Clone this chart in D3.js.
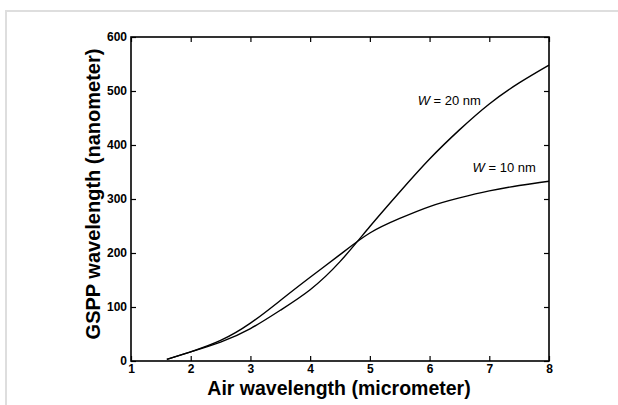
<!DOCTYPE html>
<html>
<head>
<meta charset="utf-8">
<script src="https://cdn.jsdelivr.net/npm/d3@7"></script>
<style>
  body { margin: 0; background: #fff; }
  svg { display: block; font-family: "Liberation Sans", Arial, sans-serif; }
</style>
</head>
<body>
<svg id="chart" width="618" height="405"></svg>
<script>
// data
const airWavelength = [1.6, 2, 2.5, 3, 3.5, 4, 4.5, 5, 5.5, 6, 6.5, 7, 7.5, 8];
const gsppW10 = [3, 17, 38, 70, 112, 155, 197, 237, 264, 286, 302, 315, 325, 333];
const gsppW20 = [3, 17, 35, 60, 94, 132, 184, 249, 313, 374, 428, 476, 515, 548];
const xTicks = [1, 2, 3, 4, 5, 6, 7, 8];
const yTicks = [0, 100, 200, 300, 400, 500, 600];

const width = 618, height = 405;
const MARGIN = { LEFT: 131, RIGHT: 69, TOP: 37, BOTTOM: 44 };

let svg = d3.select("#chart");

// grey page frame
svg.append("path")
    .attr("d", "M6," + height + "V11H" + width)
    .attr("fill", "none")
    .attr("stroke", "#dedede")
    .attr("stroke-width", 2);

//** SCALES *****************************************
let xScale = d3.scaleLinear()
    .domain([1, 8])
    .range([MARGIN.LEFT, width - MARGIN.RIGHT]);

let yScale = d3.scaleLinear()
    .domain([0, 600])
    .range([height - MARGIN.BOTTOM, MARGIN.TOP]);

let chart = svg.append("g");

//** AXES (ticks pointing inward) *******************
function styleAxis(g) {
    g.select(".domain").remove();
    g.selectAll(".tick line").attr("stroke", "#000").attr("stroke-width", 1.2);
    g.selectAll(".tick text")
        .attr("font-size", "12px")
        .attr("font-weight", "bold")
        .attr("fill", "#000");
}

chart.append("g")
    .attr("transform", "translate(0," + yScale(0) + ")")
    .call(d3.axisBottom(xScale).tickValues(xTicks).tickFormat(d3.format("d"))
        .tickSizeInner(-5).tickSizeOuter(0).tickPadding(3))
    .call(styleAxis);

chart.append("g")
    .attr("transform", "translate(0," + yScale(600) + ")")
    .call(d3.axisTop(xScale).tickValues(xTicks).tickFormat("")
        .tickSizeInner(-5).tickSizeOuter(0))
    .call(styleAxis);

chart.append("g")
    .attr("transform", "translate(" + xScale(1) + ",0)")
    .call(d3.axisLeft(yScale).tickValues(yTicks).tickFormat(d3.format("d"))
        .tickSizeInner(-5).tickSizeOuter(0).tickPadding(4))
    .call(styleAxis);

chart.append("g")
    .attr("transform", "translate(" + xScale(8) + ",0)")
    .call(d3.axisRight(yScale).tickValues(yTicks).tickFormat("")
        .tickSizeInner(-5).tickSizeOuter(0))
    .call(styleAxis);

// plot box
chart.append("rect")
    .attr("x", xScale(1))
    .attr("y", yScale(600))
    .attr("width", xScale(8) - xScale(1))
    .attr("height", yScale(0) - yScale(600))
    .attr("fill", "none")
    .attr("stroke", "#000")
    .attr("stroke-width", 1.6);

//** CURVES *****************************************
let line = d3.line()
    .x(d => xScale(d[0]))
    .y(d => yScale(d[1]))
    .curve(d3.curveNatural);

[gsppW10, gsppW20].forEach(series => {
    chart.append("path")
        .datum(airWavelength.map((x, i) => [x, series[i]]))
        .attr("d", line)
        .attr("fill", "none")
        .attr("stroke", "#000")
        .attr("stroke-width", 1.4);
});

//** CURVE LABELS ***********************************
function curveLabel(x, y, nm) {
    let t = chart.append("text")
        .attr("x", xScale(x))
        .attr("y", yScale(y))
        .attr("font-size", "13px")
        .attr("fill", "#000");
    t.append("tspan").attr("font-style", "italic").text("W");
    t.append("tspan").text(" = " + nm + " nm");
}
curveLabel(5.8, 474, 20);
curveLabel(6.72, 350, 10);

//** AXIS TITLES ************************************
svg.append("text")
    .attr("x", 339)
    .attr("y", 395)
    .attr("text-anchor", "middle")
    .attr("font-size", "19.5px")
    .attr("font-weight", "bold")
    .text("Air wavelength (micrometer)");

svg.append("text")
    .attr("transform", "translate(100,194) rotate(-90)")
    .attr("text-anchor", "middle")
    .attr("font-size", "20px")
    .attr("font-weight", "bold")
    .text("GSPP wavelength (nanometer)");
</script>
</body>
</html>
